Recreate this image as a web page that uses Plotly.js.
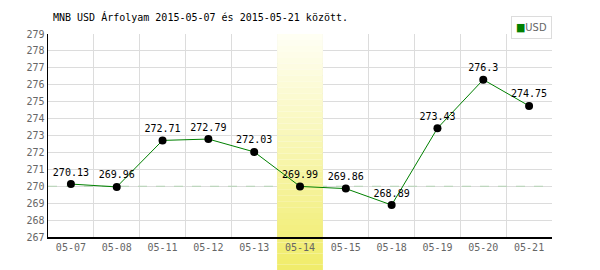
<!DOCTYPE html>
<html>
<head>
<meta charset="utf-8">
<script src="https://cdn.plot.ly/plotly-3.0.1.min.js"></script>
<style>html,body{margin:0;padding:0;background:#fff}#chart{width:600px;height:270px}</style>
</head>
<body>
<div id="chart"></div>
<script>
var categories = ['05-07','05-08','05-11','05-12','05-13','05-14','05-15','05-18','05-19','05-20','05-21'];
var usdValues = [270.13, 269.96, 272.71, 272.79, 272.03, 269.99, 269.86, 268.89, 273.43, 276.3, 274.75];
var yTicks = [267,268,269,270,271,272,273,274,275,276,277,278,279];
var seriesName = 'USD';
var highlightCategory = '05-14';
var referenceLevel = 270;
var titleText = 'MNB USD Árfolyam 2015-05-07 és 2015-05-21 között.';

var font = 'DejaVu Sans Mono, monospace';
var hi = categories.indexOf(highlightCategory);
var yMin = yTicks[0], yMax = yTicks[yTicks.length - 1];

function bandColor(t) {
  var r = Math.round(255 + (240 - 255) * t);
  var g = Math.round(255 + (236 - 255) * t);
  var b = Math.round(245 + (105 - 245) * t);
  return 'rgb(' + r + ',' + g + ',' + b + ')';
}

var shapes = [];
shapes.push({type:'line', xref:'x', yref:'y', x0:-0.5, x1:categories.length - 0.5, y0:referenceLevel, y1:referenceLevel,
  line:{color:'#b4d4b4', width:1, dash:'dash'}, layer:'between'});
// gradient band: part inside plot (data coords) and part below plot (paper coords)
var plotH = 203, belowH = 33, totalH = plotH + belowH;
var nIn = 34;
for (var i = 0; i < nIn; i++) {
  var f1 = i / nIn, f0 = (i + 1) / nIn;
  var t = (i + 0.5) / nIn * plotH / totalH;
  shapes.push({type:'rect', xref:'x', yref:'y', x0: hi - 0.5, x1: hi + 0.5,
    y0: yMax - (yMax - yMin) * f0, y1: yMax - (yMax - yMin) * f1,
    fillcolor: bandColor(t), line:{width:0}, layer:'between'});
}
var nOut = 6;
for (var j = 0; j < nOut; j++) {
  var t2 = (plotH + (j + 0.5) * belowH / nOut) / totalH;
  shapes.push({type:'rect', xref:'x', yref:'paper', x0: hi - 0.5, x1: hi + 0.5,
    y0: -(j + 1) / nOut * belowH / plotH, y1: -j / nOut * belowH / plotH,
    fillcolor: bandColor(t2), line:{width:0}, layer:'below'});
}

var trace = {
  x: categories, y: usdValues, type:'scatter', mode:'lines+markers+text',
  name: seriesName,
  text: usdValues.map(function(v){return String(v);}),
  textposition:'top center',
  textfont:{family:font, size:10, color:'#000'},
  line:{color:'#008000', width:1},
  marker:{color:'#000', size:8},
  cliponaxis:false,
  showlegend:false
};

var layout = {
  width:600, height:270,
  margin:{l:48, r:48, t:34, b:33},
  paper_bgcolor:'#fff', plot_bgcolor:'#fff',
  font:{family:font, size:10, color:'#555'},
  title:{text:titleText, font:{family:font, size:10, color:'#000'},
    x:53/600, xanchor:'left', xref:'container', y:1-17/270, yanchor:'middle', yref:'container'},
  xaxis:{type:'category', range:[-0.5, categories.length - 0.5], tickson:'boundaries',
    showgrid:true, gridcolor:'#dcdcdc', gridwidth:1, showline:true, linecolor:'#000', linewidth:1.5,
    ticks:'', tickfont:{family:font, size:10, color:'#666'}, fixedrange:true, zeroline:false},
  yaxis:{range:[yMin, yMax], tickvals:yTicks, ticktext:yTicks.map(String),
    showgrid:true, gridcolor:'#dcdcdc', gridwidth:1, showline:true, linecolor:'#000', linewidth:1.5,
    ticks:'', tickfont:{family:font, size:10, color:'#666'}, zeroline:false, fixedrange:true},
  shapes: shapes,
  annotations:[{
    xref:'paper', yref:'paper', x:1, y:(237-16)/203, xanchor:'right', yanchor:'top',
    text:'<span style="color:#008000">■</span>USD', showarrow:false,
    font:{family:'DejaVu Sans Condensed, sans-serif', size:11, color:'#666'},
    bgcolor:'#fff', bordercolor:'#dcdcdc', borderwidth:1, borderpad:4
  }],
  showlegend:false
};

Plotly.newPlot('chart', [trace], layout, {staticPlot:true, displayModeBar:false});
</script>
</body>
</html>
